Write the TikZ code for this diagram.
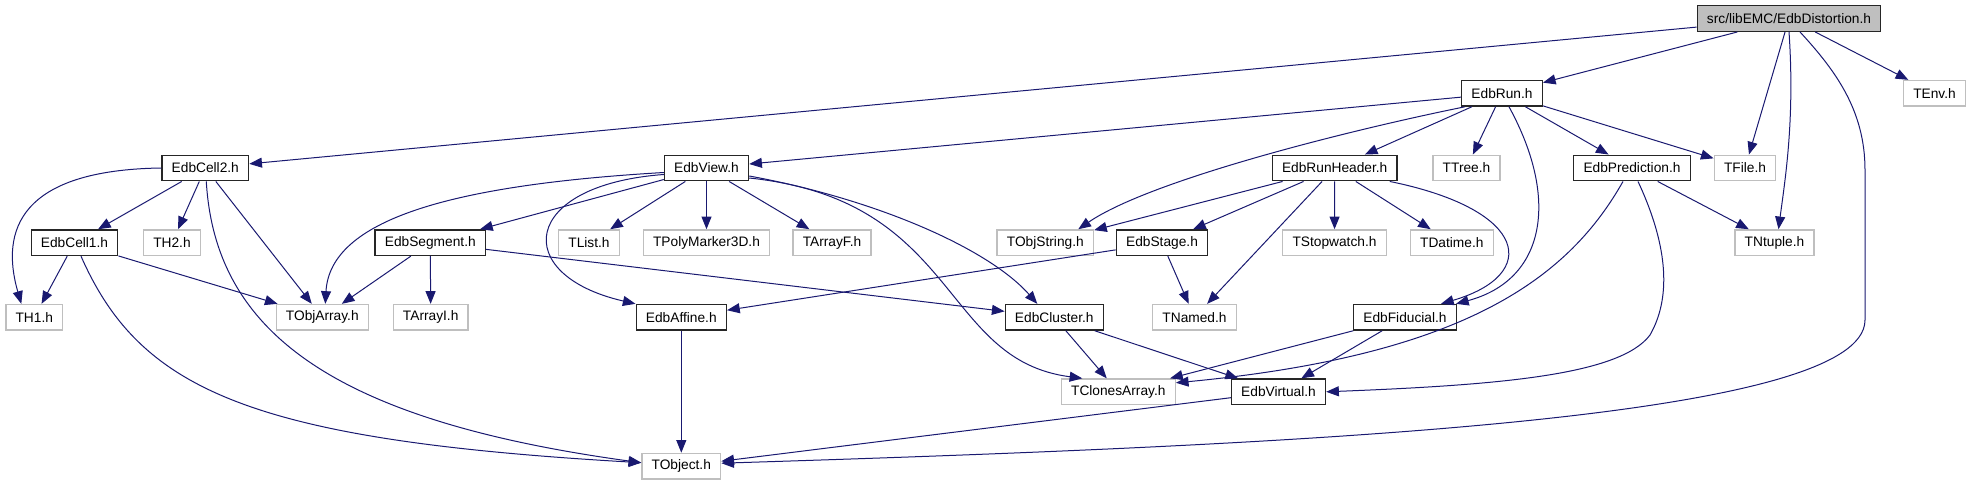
\documentclass[tikz,border=0pt]{standalone}
\usepackage{fontspec}
\setmainfont{Liberation Sans}
\usetikzlibrary{arrows.meta,calc}
\definecolor{edgeblue}{HTML}{191970}
\definecolor{boxgray}{HTML}{BFBFBF}

\begin{document}
\begin{tikzpicture}[x=0.75pt,y=-0.75pt,
    every node/.style={font=\fontsize{10.3}{12}\selectfont,inner xsep=7.3pt,inner ysep=0pt,
      minimum height=19.2pt,line width=1pt},
    hdr/.style={draw=black!85,fill=white},
    sys/.style={draw=boxgray,fill=white},
    root/.style={draw=black!85,fill=boxgray},
    dep/.style={draw=edgeblue,line width=0.75pt,-{Triangle[length=9.5pt,width=7.5pt]}}]
  \useasboundingbox (0,0) rectangle (1971,485);
  \node[root] (dist) at (1789,18.5) {src/libEMC/EdbDistortion.h};
  \node[hdr] (run) at (1502,93.3) {EdbRun.h};
  \node[sys] (env) at (1934.5,93.3) {TEnv.h};
  \node[hdr] (cell2) at (205.3,168) {EdbCell2.h};
  \node[hdr] (view) at (706.5,168) {EdbView.h};
  \node[hdr] (runhdr) at (1334.7,168) {EdbRunHeader.h};
  \node[sys] (ttree) at (1466.5,168) {TTree.h};
  \node[hdr] (pred) at (1632,168) {EdbPrediction.h};
  \node[sys] (tfile) at (1745,168) {TFile.h};
  \node[hdr] (cell1) at (74.5,242.7) {EdbCell1.h};
  \node[sys] (th2) at (172,242.7) {TH2.h};
  \node[hdr] (seg) at (430.3,242.7) {EdbSegment.h};
  \node[sys] (tlist) at (589,242.7) {TList.h};
  \node[sys] (tpoly) at (706.5,242.7) {TPolyMarker3D.h};
  \node[sys] (tarrayf) at (832,242.7) {TArrayF.h};
  \node[sys] (tobjstr) at (1045.3,242.7) {TObjString.h};
  \node[hdr] (stage) at (1162,242.7) {EdbStage.h};
  \node[sys] (tstop) at (1334.5,242.7) {TStopwatch.h};
  \node[sys] (tdatime) at (1451.8,242.7) {TDatime.h};
  \node[sys] (tntuple) at (1774.5,242.7) {TNtuple.h};
  \node[sys] (th1) at (34.3,317.3) {TH1.h};
  \node[sys] (tobjarr) at (322.3,317.3) {TObjArray.h};
  \node[sys] (tarrayi) at (430.7,317.3) {TArrayI.h};
  \node[hdr] (affine) at (681.3,317.3) {EdbAffine.h};
  \node[hdr] (cluster) at (1054.3,317.3) {EdbCluster.h};
  \node[sys] (tnamed) at (1194.5,317.3) {TNamed.h};
  \node[hdr] (fiducial) at (1405,317.3) {EdbFiducial.h};
  \node[sys] (tclones) at (1118.3,391.8) {TClonesArray.h};
  \node[hdr] (virtual) at (1278.5,391.8) {EdbVirtual.h};
  \node[sys] (tobject) at (681.3,466.2) {TObject.h};

  \draw[dep] (dist) -- (cell2);
  \draw[dep] (dist) -- (run);
  \draw[dep] (dist) -- (tfile);
  \draw[dep] (dist.south) .. controls (1795,120) and (1785,180) .. ($(tntuple.north)+(4,0)$);
  \draw[dep] ($(dist.south)+(11,0)$) .. controls (1835,70) and (1865,110) .. (1865,170)
    -- (1865,320) .. controls (1865,420) and (1300,445) .. ($(tobject.east)+(0,-3)$);
  \draw[dep] (dist) -- (env);

  \draw[dep] (run) -- (view);
  \draw[dep] ($(run.south west)+(4,0)$) .. controls (1350,130) and (1150,180) .. ($(tobjstr.north)+(33,0)$);
  \draw[dep] (run) -- (runhdr);
  \draw[dep] (run) -- (ttree);
  \draw[dep] ($(run.south)+(7,0)$) .. controls (1560,200) and (1545,280) .. ($(fiducial.north east)+(-1,0)$);
  \draw[dep] (run) -- (pred);
  \draw[dep] (run) -- (tfile);

  \draw[dep] (cell2.west) .. controls (20,170) and (0,230) .. ($(th1.north)+(-13,0)$);
  \draw[dep] (cell2) -- (cell1);
  \draw[dep] (cell2) -- (th2);
  \draw[dep] ($(cell2.south)+(1,0)$) .. controls (215,330) and (330,420) .. ($(tobject.west)+(0,-3.5)$);
  \draw[dep] (cell2) -- (tobjarr);

  \draw[dep] (cell1) -- (th1);
  \draw[dep] ($(cell1.south)+(6.5,0)$) .. controls (140,390) and (250,440) .. ($(tobject.west)+(0,-3.5)$);
  \draw[dep] (cell1) -- (tobjarr);

  \draw[dep] ($(view.west)+(0,4.5)$) .. controls (450,185) and (330,220) .. ($(tobjarr.north)+(3,0)$);
  \draw[dep] (view) -- (seg);
  \draw[dep] ($(view.west)+(0,6.5)$) .. controls (520,185) and (510,275) .. (affine.north west);
  \draw[dep] (view) -- (tlist);
  \draw[dep] (view) -- (tpoly);
  \draw[dep] (view) -- (tarrayf);
  \draw[dep] ($(view.east)+(0,10)$) .. controls (960,200) and (940,360) .. ($(tclones.north)+(-36,0)$);
  \draw[dep] ($(view.east)+(0,8)$) .. controls (880,200) and (990,250) .. ($(cluster.north)+(-17,0)$);

  \draw[dep] (seg) -- (tobjarr);
  \draw[dep] (seg) -- (tarrayi);
  \draw[dep] (seg) -- (cluster);

  \draw[dep] (runhdr) -- (tobjstr);
  \draw[dep] (runhdr) -- (stage);
  \draw[dep] (runhdr) -- (tnamed);
  \draw[dep] (runhdr) -- (tstop);
  \draw[dep] (runhdr) -- (tdatime);
  \draw[dep] ($(runhdr.south east)+(-8,0)$) .. controls (1530,210) and (1540,275) .. ($(fiducial.north east)+(-16,0)$);

  \draw[dep] (stage) -- (affine);
  \draw[dep] (stage) -- (tnamed);
  \draw[dep] (affine) -- (tobject);
  \draw[dep] (cluster) -- (tclones);
  \draw[dep] (cluster) -- (virtual);

  \draw[dep] (pred) -- (tntuple);
  \draw[dep] ($(pred.south)+(-9,0)$) .. controls (1570,275) and (1470,355) .. ($(tclones.east)+(0,-9)$);
  \draw[dep] ($(pred.south)+(6,0)$) .. controls (1670,250) and (1670,300) .. (1650,335)
    .. controls (1620,375) and (1500,385) .. (virtual.east);

  \draw[dep] (fiducial) -- (tclones);
  \draw[dep] (fiducial) -- (virtual);
  \draw[dep] (virtual) -- (tobject);
\end{tikzpicture}
\end{document}
